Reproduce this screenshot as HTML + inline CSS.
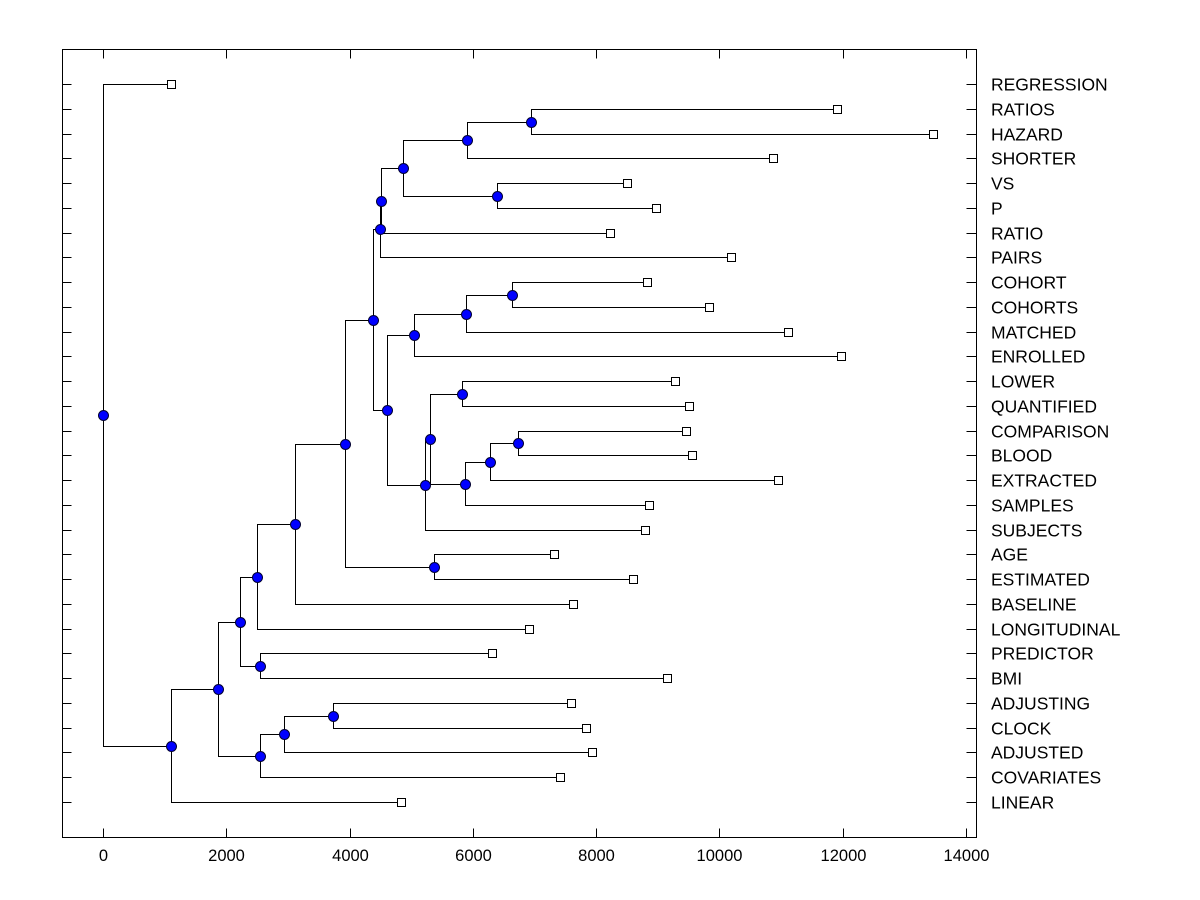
<!DOCTYPE html>
<html><head><meta charset="utf-8"><style>
body{margin:0;background:#fff;}
svg{display:block;font-family:"Liberation Sans",Arial,sans-serif;}
</style></head><body>
<svg id="chart" width="1200" height="900" xmlns="http://www.w3.org/2000/svg">
<rect x="0" y="0" width="1200" height="900" fill="#fff"/>
<g id="g"></g>
</svg>
<script>
const leafNames = ["REGRESSION","RATIOS","HAZARD","SHORTER","VS","P","RATIO","PAIRS","COHORT","COHORTS","MATCHED","ENROLLED","LOWER","QUANTIFIED","COMPARISON","BLOOD","EXTRACTED","SAMPLES","SUBJECTS","AGE","ESTIMATED","BASELINE","LONGITUDINAL","PREDICTOR","BMI","ADJUSTING","CLOCK","ADJUSTED","COVARIATES","LINEAR"];
const leafValues = [1103,11908,13465,10870,8501,8971,8225,10188,8825,9831,11113,11973,9280,9507,9458,9556,10951,8858,8793,7317,8598,7625,6911,6311,9150,7592,7836,7933,7414,4834];
const mergeLeft  = [1,30,4,31,33,34,8,36,37,12,14,40,41,39,43,38,35,19,46,48,49,23,50,25,53,54,52,56,0];
const mergeRight = [2,3,5,32,6,7,9,10,11,13,15,16,17,42,18,44,45,20,47,21,22,24,51,26,27,28,55,29,57];
const mergeHeights = [6943,5905,6392,4867,4510,4490,6635,5889,5045,5824,6733,6278,5873,5305,5224,4607,4380,5370,3926,3115,2498,2547,2223,3731,2936,2547,1866,1103,0];
const xTicks = [0,2000,4000,6000,8000,10000,12000,14000];

const NS="http://www.w3.org/2000/svg";
const g=document.getElementById('g');
const L=62.5,R=976.5,T=49.5,B=837.5;
const xs=v=>Math.round(103+v*(966-103)/14000)+0.5;
const ys=i=>Math.round(84+i*(802-84)/29)+0.5;
function el(tag,attrs,parent){const e=document.createElementNS(NS,tag);for(const k in attrs)e.setAttribute(k,attrs[k]);(parent||g).appendChild(e);return e;}

const frame=el('rect',{x:L,y:T,width:R-L,height:B-T,fill:'none',stroke:'#000','stroke-width':1});



xTicks.forEach(v=>{
  const x=xs(v);
  el('line',{x1:x,x2:x,y1:B,y2:B-9,stroke:'#000'});
  el('line',{x1:x,x2:x,y1:T,y2:T+9,stroke:'#000'});
  const t=el('text',{x:x,y:861,'text-anchor':'middle','font-size':16.5});
  t.textContent=v;
  
  
});

const pos=[];
leafNames.forEach((n,i)=>{
  const y=ys(i);
  pos.push({x:xs(leafValues[i]),y:y});
  el('line',{x1:L,x2:L+9,y1:y,y2:y,stroke:'#000'});
  el('line',{x1:R-10,x2:R,y1:y,y2:y,stroke:'#000'});
  const t=el('text',{x:991,y:y+6,'font-size':17.5});
  t.textContent=n;
  
  
});

const links=el('g',{});
const marks=el('g',{});
const nodes=[];
mergeHeights.forEach((h,k)=>{
  const a=pos[mergeLeft[k]],b=pos[mergeRight[k]];
  const x=xs(h),y=Math.round((a.y+b.y)/2-0.5)+0.5;
  pos.push({x:x,y:y});
  const p=el('path',{d:`M${a.x},${a.y}H${x}V${b.y}H${b.x}`,fill:'none',stroke:'#000','stroke-width':1},links);
  
  
  nodes.push({x:x,y:y});
});
leafNames.forEach((n,i)=>{
  const r=el('rect',{x:pos[i].x-4,y:pos[i].y-4,width:8,height:8,fill:'#fff',stroke:'#000'},marks);
  
  
});
nodes.forEach(n=>{
  const c=el('circle',{cx:n.x,cy:n.y,r:5,fill:'#0000ff',stroke:'#000033','stroke-width':1},marks);
  
  
});
</script>
</body></html>
